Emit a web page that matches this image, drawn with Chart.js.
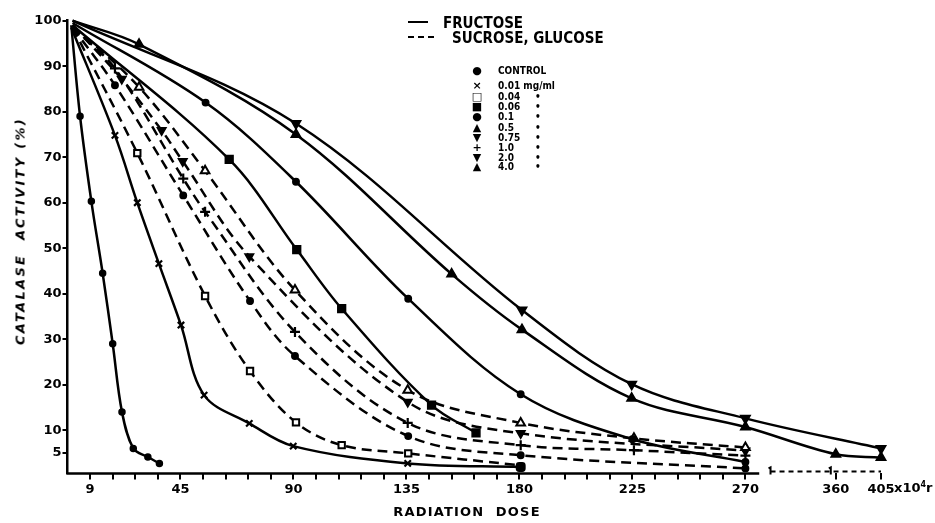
<!DOCTYPE html>
<html>
<head>
<meta charset="utf-8">
<script src="https://cdn.jsdelivr.net/npm/chart.js@4.4.0/dist/chart.umd.min.js"></script>
<style>
  body { margin: 0; background: #fff; }
  #wrap { position: relative; width: 935px; height: 523px; color: #000;
          font-family: 'DejaVu Sans Condensed', 'DejaVu Sans', sans-serif; font-weight: bold; }
  #js--chart { position: absolute; left: 0; top: 0; }
  .t { position: absolute; white-space: nowrap; line-height: 1; }
  .big { font-size: 15px; }
  .sm { font-size: 10px; }
  .mk { position: absolute; width: 14px; text-align: center; font-size: 11px; line-height: 1;
        font-family: 'DejaVu Sans', sans-serif; }
  .line { position: absolute; height: 0; border-top: 2.5px solid #000; }
  .dash { position: absolute; height: 0; border-top: 2.5px dashed #000; }
</style>
</head>
<body>
<div id="wrap">
  <canvas id="js--chart" width="935" height="523"></canvas>

  <div class="line" style="left:408px; top:21px; width:20px;"></div>
  <div class="t big" style="left:443px; top:16px;">FRUCTOSE</div>
  <div class="dash" style="left:408px; top:36px; width:26px;"></div>
  <div class="t big" style="left:452px; top:31px;">SUCROSE, GLUCOSE</div>

  <div id="js--legend"></div>

  <div class="t" style="left:20px; top:231px; transform: translate(-50%,-50%) rotate(-90deg);
       font-family:'DejaVu Sans', sans-serif; font-style: italic; font-size: 13px; letter-spacing: 2.3px;">CATALASE&nbsp; ACTIVITY (%)</div>
  <div class="t" style="left:467px; top:511px; transform: translate(-50%,-50%);
       font-family:'DejaVu Sans', sans-serif; font-size: 13px; letter-spacing: 1.2px;">RADIATION&nbsp; DOSE</div>
  <div class="t" style="left:894px; top:481px; font-size: 13px; font-family:'DejaVu Sans', sans-serif;">x10<sup style="font-size:8px;">4</sup>r</div>
</div>

<script>
// doses in 10^4 r, activity in %
const controlDose = [1.5, 5, 9.5, 14, 18, 21.7, 26.2, 32, 36.6];
const controlAct  = [99, 79, 60.3, 44.5, 29, 14, 6, 4.1, 2.7];

const c001Dose = [1.5, 18.9, 27.8, 36.4, 45.2, 54.4, 72.4, 89.9, 135.5, 180.5];
const c001Act  = [98.5, 74.8, 60, 46.6, 33.1, 17.7, 11.5, 6.5, 2.7, 1.9];

const c004Dose = [2, 27.8, 54.8, 72.7, 91, 109.2, 135.7, 180];
const c004Act  = [98.5, 70.9, 39.5, 23, 11.7, 6.7, 4.9, 2.3];

const c006Dose = [2, 64.4, 91.3, 109.2, 145, 162.7];
const c006Act  = [99, 69.5, 49.7, 36.7, 15.5, 9.4];

const c01fDose = [2, 55, 91, 135.7, 180.5, 225, 270];
const c01fAct  = [99.5, 82, 64.6, 38.9, 17.9, 8, 3];

const c01sDose = [2, 18.9, 46.1, 72.7, 90.6, 135.7, 180.5, 270];
const c01sAct  = [98.5, 85.8, 61.6, 38.4, 26.3, 8.7, 4.5, 1.6];

const c05Dose = [2, 28.5, 54.8, 90.6, 135.5, 180.5, 225.6, 270];
const c05Act  = [99, 85.4, 67, 40.8, 18.8, 11.6, 8.2, 6.2];

const c075Dose = [2, 21.6, 37.5, 45.9, 72.4, 135.5, 180.5, 270];
const c075Act  = [99, 87.2, 75.9, 69.1, 48.2, 16.2, 9.3, 5.5];

const c10Dose = [2, 18.9, 46.1, 54.8, 90.6, 135.5, 180.5, 225.6, 270];
const c10Act  = [98.5, 89.5, 65.3, 58, 31.6, 11.6, 6.7, 5.6, 4.4];

const c20Dose = [2, 91, 181, 224.7, 270, 405];
const c20Act  = [100, 77.4, 36.4, 20.1, 12.6, 6];

const c40Dose = [2, 28.5, 91, 153, 181, 224.7, 270, 360, 405];
const c40Act  = [100, 94.8, 75, 44.3, 32.1, 17, 10.7, 4.7, 4];

const xTickDoses = [9, 18, 27, 36, 45, 54, 63, 72, 81, 90, 99, 108, 117, 126, 135, 144, 153, 162, 171,
                    180, 189, 198, 207, 216, 225, 234, 243, 252, 261, 270, 360, 405];
const xLabelDoses = [9, 45, 90, 135, 180, 225, 270, 360, 405];
const yTicks = [5, 10, 20, 30, 40, 50, 60, 70, 80, 90, 100];

const legendMarks  = ['●', '×', '□', '■', '●', '▲', '▼', '+', '▼', '▲'];
const legendLabels = ['CONTROL', '0.01 mg/ml', '0.04', '0.06', '0.1', '0.5', '0.75', '1.0', '2.0', '4.0'];

// axis is broken after 270: the rest is squeezed
function axisPos(d){
  return d <= 270 ? d : 270 + (d - 270) * 0.4;
}
function axisDose(p){
  return p <= 270 ? p : 270 + (p - 270) / 0.4;
}

function makeSet(label, doses, acts, opts){
  const pts = doses.map(function(d, i){ return {x: axisPos(d), y: acts[i]}; });
  const r = opts.r || 3.5;
  return {
    label: label,
    data: pts,
    borderColor: '#000',
    borderWidth: 2.5,
    borderDash: opts.dashed ? [10, 6] : [],
    tension: 0.35,
    fill: false,
    clip: false,
    pointStyle: opts.style || 'circle',
    pointRotation: opts.rot || 0,
    pointRadius: function(ctx){
      if (ctx.dataIndex === 0) return 0;
      if (opts.skipLast && ctx.dataIndex === pts.length - 1) return 0;
      return r;
    },
    pointBackgroundColor: opts.open ? '#fff' : '#000',
    pointBorderColor: '#000',
    pointBorderWidth: opts.bw || 1.5
  };
}

const datasets = [
  makeSet('Control', controlDose, controlAct, {style: 'circle', r: 3}),
  makeSet('0.01 mg/ml', c001Dose, c001Act, {style: 'crossRot', r: 4.5, bw: 2.2}),
  makeSet('0.04', c004Dose, c004Act, {style: 'rect', r: 4.5, open: true, bw: 2, dashed: true, skipLast: true}),
  makeSet('0.06', c006Dose, c006Act, {style: 'rect', r: 5.5}),
  makeSet('0.1 fructose', c01fDose, c01fAct, {style: 'circle', r: 3.2}),
  makeSet('0.1', c01sDose, c01sAct, {style: 'circle', r: 3.2, dashed: true}),
  makeSet('0.5', c05Dose, c05Act, {style: 'triangle', r: 5, open: true, bw: 2, dashed: true}),
  makeSet('0.75', c075Dose, c075Act, {style: 'triangle', rot: 180, r: 5, dashed: true}),
  makeSet('1.0', c10Dose, c10Act, {style: 'cross', r: 5, bw: 2.2, dashed: true}),
  makeSet('2.0', c20Dose, c20Act, {style: 'triangle', rot: 180, r: 5.5}),
  makeSet('4.0', c40Dose, c40Act, {style: 'triangle', r: 5.5})
];

// end blob of the 0.01 / 0.04 curves at 180
datasets[1].pointStyle = function(ctx){
  return ctx.dataIndex === c001Dose.length - 1 ? 'rectRounded' : 'crossRot';
};
datasets[1].pointBackgroundColor = '#000';

const axisBreak = {
  id: 'axisBreak',
  afterDraw(chart){
    const ctx = chart.ctx;
    const area = chart.chartArea;
    const x = chart.scales.x;
    const y0 = area.bottom;
    ctx.save();
    ctx.strokeStyle = '#000';
    ctx.lineWidth = 2.5;
    ctx.beginPath();
    ctx.moveTo(area.left - 1.2, y0);
    ctx.lineTo(x.getPixelForValue(275.5), y0);
    ctx.stroke();

    const yb = y0 - 2;
    ctx.lineWidth = 2;
    ctx.setLineDash([5, 4]);
    ctx.beginPath();
    ctx.moveTo(x.getPixelForValue(280), yb);
    ctx.lineTo(x.getPixelForValue(axisPos(405)), yb);
    ctx.stroke();
    ctx.setLineDash([]);
    // little break hooks
    [280, axisPos(360) - 2].forEach(function(p){
      const px = x.getPixelForValue(p);
      ctx.beginPath();
      ctx.moveTo(px - 2, yb - 3);
      ctx.lineTo(px, yb - 4);
      ctx.lineTo(px, yb + 3);
      ctx.stroke();
    });
    ctx.restore();
  }
};

const config = {
  type: 'line',
  data: { datasets: datasets },
  options: {
    responsive: false,
    animation: false,
    layout: { padding: { top: 20.7, right: 54, left: 0, bottom: 0 } },
    plugins: { legend: { display: false }, tooltip: { enabled: false } },
    scales: {
      x: {
        type: 'linear',
        min: 0,
        max: axisPos(405),
        afterFit: function(scale){ scale.height = 49.6; },
        afterBuildTicks: function(scale){
          scale.ticks = xTickDoses.map(function(d){ return {value: axisPos(d)}; });
        },
        border: { display: false },
        grid: { drawOnChartArea: false, drawTicks: true, tickLength: 6, color: '#000', lineWidth: 2 },
        ticks: {
          autoSkip: false,
          maxRotation: 0,
          padding: 2,
          color: '#000',
          font: { family: "'DejaVu Sans', sans-serif", size: 13, weight: 'bold' },
          callback: function(value){
            const d = Math.round(axisDose(value));
            return xLabelDoses.indexOf(d) >= 0 ? String(d) : '';
          }
        }
      },
      y: {
        type: 'linear',
        min: 0.5,
        max: 100,
        afterFit: function(scale){ scale.width = 67.5; },
        afterBuildTicks: function(scale){
          scale.ticks = yTicks.map(function(v){ return {value: v}; });
        },
        border: { display: true, color: '#000', width: 2.5 },
        grid: { drawOnChartArea: false, drawTicks: true, tickLength: 5, color: '#000', lineWidth: 2 },
        ticks: {
          padding: 1,
          color: '#000',
          font: { family: "'DejaVu Sans', sans-serif", size: 13, weight: 'bold' }
        }
      }
    }
  },
  plugins: [axisBreak]
};

const chart1 = new Chart(document.getElementById('js--chart'), config);

// marker legend
const legendBox = document.getElementById('js--legend');
const rowTops = [71, 86, 97, 107, 117, 128, 138, 148, 158, 167];
for (let i = 0; i < legendLabels.length; i++){
  const mk = document.createElement('div');
  mk.className = 'mk';
  mk.style.left = '470px';
  mk.style.top = (rowTops[i] - 6) + 'px';
  mk.innerText = legendMarks[i];
  legendBox.appendChild(mk);

  const lb = document.createElement('div');
  lb.className = 't sm';
  lb.style.left = '498px';
  lb.style.top = (rowTops[i] - 5) + 'px';
  lb.innerText = legendLabels[i];
  legendBox.appendChild(lb);

  if (i >= 2){
    const dt = document.createElement('div');
    dt.className = 't sm';
    dt.style.left = '535px';
    dt.style.top = (rowTops[i] - 5) + 'px';
    dt.innerText = '•';
    legendBox.appendChild(dt);
  }
}
</script>
</body>
</html>
